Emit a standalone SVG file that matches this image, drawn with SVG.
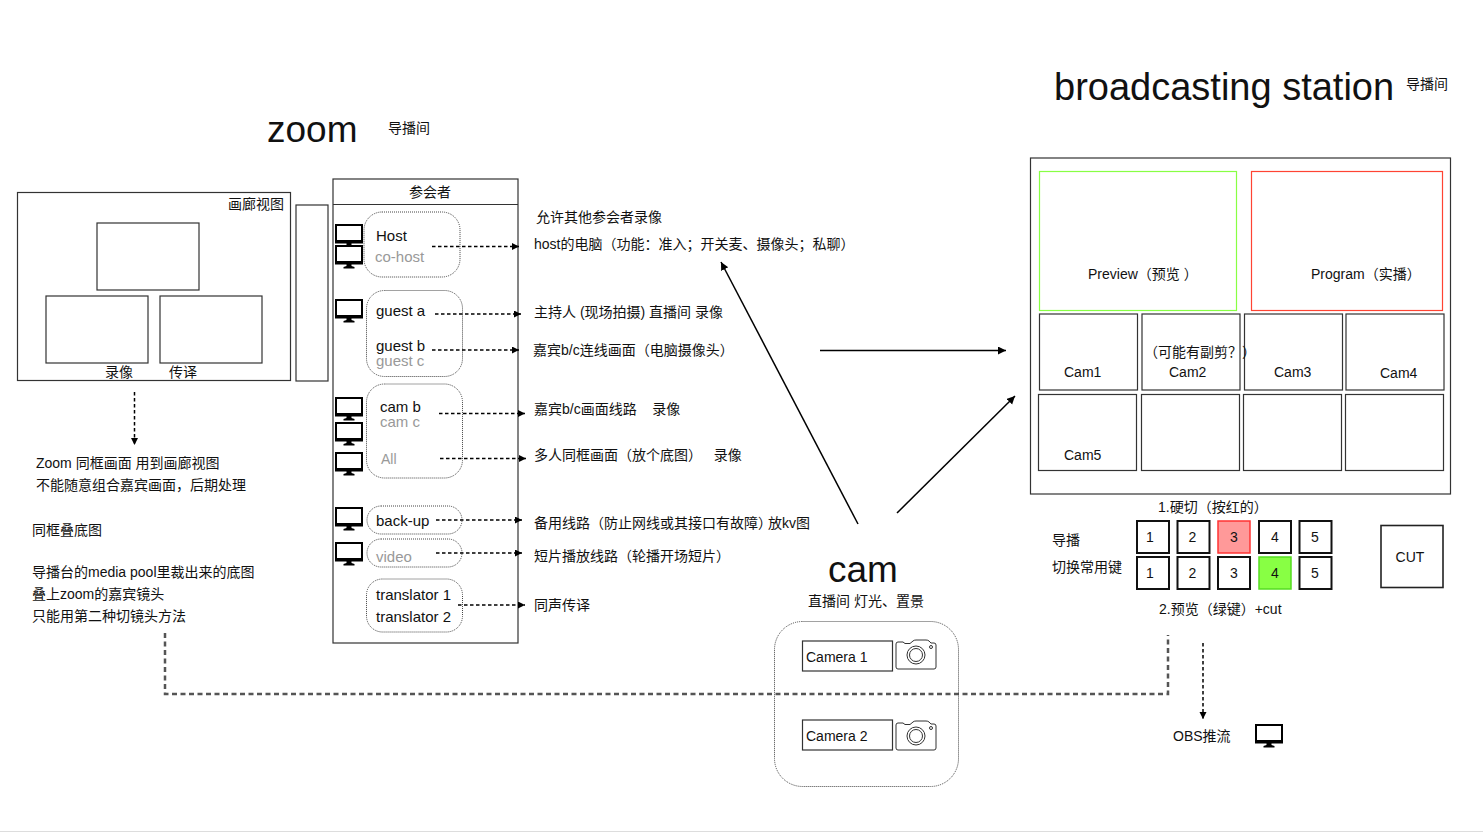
<svg xmlns="http://www.w3.org/2000/svg" width="1483" height="832" viewBox="0 0 1483 832">
<style>
text{font-family:"Liberation Sans","Noto Sans CJK SC",sans-serif;font-size:14px;fill:#111}
.b{fill:#fff;stroke:#333;stroke-width:1.200}
.k{fill:#fff;stroke:#111;stroke-width:2}
.g{fill:#999}
.m{text-anchor:middle}
.n{font-size:15px}
.p{fill:none;stroke:#444;stroke-width:1;stroke-dasharray:1 1}
.d{fill:none;stroke:#000;stroke-width:1.500;stroke-dasharray:3.500 2.500;marker-end:url(#a)}
.s{fill:none;stroke:#000;stroke-width:1.500;marker-end:url(#a2)}
</style>
<defs>
<marker id="a" markerWidth="8" markerHeight="8" refX="7" refY="3.500" orient="auto" markerUnits="userSpaceOnUse"><path d="M0 0L7 3.500L0 7z" fill="#000"/></marker>
<marker id="a2" markerWidth="10" markerHeight="10" refX="8" refY="4" orient="auto" markerUnits="userSpaceOnUse"><path d="M0 0L8 4L0 8z" fill="#000"/></marker>
<g id="mon"><rect x="1" y="1" width="26" height="17" fill="#fff" stroke="#000" stroke-width="2"/><rect x="0" y="16" width="28" height="3.500" fill="#000"/><path d="M11.500 19h5v2l3 1v1.500h-11v-1.500l3-1z" fill="#000"/></g>
<g id="cam"><path d="M1 6q0-2 2-2h5l2 1.500h5l3-2.500q1-1 3-1h10q2 0 3 1l2 2h3q2 0 2 2v22q0 2-2 2h-36q-2 0-2-2z" fill="#fff" stroke="#333" stroke-width="1"/><circle cx="21" cy="17" r="9" fill="none" stroke="#333" stroke-width="1"/><circle cx="21" cy="17" r="6.500" fill="none" stroke="#333" stroke-width="1"/><circle cx="36" cy="9" r="1.500" fill="none" stroke="#333"/></g>
</defs>

<g id="title-zoom"><text x="267" y="142" style="font-size:37px">zoom</text><text x="388" y="133">导播间</text></g>
<g id="title-station"><text x="1054" y="100" style="font-size:38px">broadcasting station</text><text x="1406" y="89">导播间</text></g>

<g id="gallery">
<rect class="b" x="17.500" y="192.500" width="273" height="188"/>
<text x="228" y="209">画廊视图</text>
<rect class="b" x="97" y="223" width="102" height="67"/>
<rect class="b" x="46" y="296" width="102" height="67"/>
<rect class="b" x="160" y="296" width="102" height="67"/>
<text x="105" y="377">录像</text><text x="169" y="377">传译</text>
</g>
<g id="strip"><rect class="b" x="296" y="205" width="32" height="176"/></g>

<g id="participants">
<rect class="b" x="333" y="179" width="185" height="464"/>
<line x1="333" y1="204.500" x2="518" y2="204.500" stroke="#333" stroke-width="1.200"/>
<text x="430" y="197" class="m">参会者</text>
</g>
<g id="monitors">
<use href="#mon" x="335" y="224"/><use href="#mon" x="335" y="245"/><use href="#mon" x="335" y="299"/>
<use href="#mon" x="335" y="397"/><use href="#mon" x="335" y="422"/><use href="#mon" x="335" y="452"/>
<use href="#mon" x="335" y="507"/><use href="#mon" x="335" y="542"/>
</g>
<g id="host"><rect class="p" x="364" y="212" width="96" height="65" rx="18"/><text x="376" y="241" class="n">Host</text><text x="375" y="262" class="g n">co-host</text></g>
<g id="guests"><rect class="p" x="366.500" y="290.500" width="96" height="86" rx="18"/><text x="376" y="316" class="n">guest a</text><text x="376" y="351" class="n">guest b</text><text x="376" y="366" class="g n">guest c</text></g>
<g id="cams"><rect class="p" x="366.500" y="384" width="96" height="94" rx="18"/><text x="380" y="411.500" class="n">cam b</text><text x="380" y="426.500" class="g n">cam c</text><text x="381" y="464" class="g">All</text></g>
<g id="backup"><rect class="p" x="367" y="506" width="95" height="28" rx="14"/><text x="376" y="526" class="n">back-up</text></g>
<g id="video"><rect class="p" x="367" y="539" width="95" height="28" rx="14"/><text x="376" y="562" class="g n">video</text></g>
<g id="translators"><rect class="p" x="366.500" y="579" width="96" height="53" rx="16"/><text x="376" y="600" class="n">translator 1</text><text x="376" y="622" class="n">translator 2</text></g>

<g id="connectors">
<path class="d" d="M432 246.500H519"/>
<path class="d" d="M435 314H521"/>
<path class="d" d="M432 350H519"/>
<path class="d" d="M439 413.500H525"/>
<path class="d" d="M440 458.500H526"/>
<path class="d" d="M436 520H522"/>
<path class="d" d="M436 553H522"/>
<path class="d" d="M458 605H525"/>
<path class="d" d="M134.500 392V445"/>
<path class="d" d="M1203 643V719"/>
<path d="M165 633V694H1168V635" fill="none" stroke="#555" stroke-width="2.500" stroke-dasharray="5 3.500"/>
<path class="s" d="M820 350.500H1006"/>
<path class="s" d="M858 524L721 262"/>
<path class="s" d="M897 513L1015 396"/>
</g>

<g id="notes-right">
<text x="536" y="222">允许其他参会者录像</text>
<text x="534" y="249">host的电脑（功能：准入；开关麦、摄像头；私聊）</text>
<text x="534" y="317">主持人 (现场拍摄) 直播间 录像</text>
<text x="533" y="355">嘉宾b/c连线画面（电脑摄像头）</text>
<text x="534" y="414">嘉宾b/c画面线路&#160;&#160;&#160;&#160;录像</text>
<text x="534" y="460">多人同框画面（放个底图）&#160;&#160;&#160;录像</text>
<text x="534" y="528">备用线路（防止网线或其接口有故障）<tspan dx="-4">放kv图</tspan></text>
<text x="534" y="561">短片播放线路（轮播开场短片）</text>
<text x="534" y="610">同声传译</text>
</g>
<g id="notes-left">
<text x="36" y="468">Zoom 同框画面 用到画廊视图</text>
<text x="36" y="490">不能随意组合嘉宾画面，后期处理</text>
<text x="32" y="535">同框叠底图</text>
<text x="32" y="577">导播台的media pool里裁出来的底图</text>
<text x="32" y="599">叠上zoom的嘉宾镜头</text>
<text x="32" y="621">只能用第二种切镜头方法</text>
</g>

<g id="cam-section">
<text x="828" y="582" style="font-size:37px">cam</text>
<text x="808" y="606">直播间 灯光、置景</text>
<rect class="p" x="774.500" y="621.500" width="184" height="165" rx="28"/>
<rect class="b" x="802.500" y="641" width="90" height="30"/><text x="806" y="662">Camera 1</text>
<use href="#cam" x="895" y="638"/>
<rect class="b" x="802.500" y="720" width="90" height="30"/><text x="806" y="741">Camera 2</text>
<use href="#cam" x="895" y="719"/>
</g>

<g id="station">
<rect class="b" x="1030.500" y="158" width="420" height="336"/>
<rect x="1039.500" y="171.500" width="197" height="139" fill="#fff" stroke="#8f4" stroke-width="1.200"/>
<rect x="1251.500" y="171.500" width="191" height="139" fill="#fff" stroke="#f43" stroke-width="1.200"/>
<text x="1088" y="279">Preview（预览 ）</text>
<text x="1311" y="279">Program（实播）</text>
<rect class="b" x="1039.500" y="314" width="98" height="76"/><text x="1064" y="377">Cam1</text>
<rect class="b" x="1142" y="314" width="98" height="76"/><text x="1169" y="377">Cam2</text>
<rect class="b" x="1244.500" y="314" width="98" height="76"/><text x="1274" y="377">Cam3</text>
<rect class="b" x="1346" y="314" width="98" height="76"/><text x="1380" y="378">Cam4</text>
<text x="1144" y="357">（可能有副剪？）</text>
<rect class="b" x="1038.500" y="394.500" width="98" height="76"/><text x="1064" y="460">Cam5</text>
<rect class="b" x="1141.500" y="394.500" width="98" height="76"/>
<rect class="b" x="1243.500" y="394.500" width="98" height="76"/>
<rect class="b" x="1345.500" y="394.500" width="98" height="76"/>
</g>

<g id="keys">
<text x="1158" y="512">1.硬切（按红的）</text>
<text x="1052" y="545">导播</text>
<text x="1052" y="572">切换常用键</text>
<text x="1159" y="614">2.预览（绿键）+cut</text>
<rect class="k" x="1137" y="521" width="32" height="32"/><text x="1150" y="542" class="m">1</text>
<rect class="k" x="1177.500" y="521" width="32" height="32"/><text x="1192.500" y="542" class="m">2</text>
<rect x="1218" y="521" width="32" height="32" fill="#f99" stroke="#f33" stroke-width="1.500"/><text x="1234" y="542" class="m">3</text>
<rect class="k" x="1259" y="521" width="32" height="32"/><text x="1275" y="542" class="m">4</text>
<rect class="k" x="1299.500" y="521" width="32" height="32"/><text x="1315" y="542" class="m">5</text>
<rect class="k" x="1137" y="557" width="32" height="32"/><text x="1150" y="578" class="m">1</text>
<rect class="k" x="1177.500" y="557" width="32" height="32"/><text x="1192.500" y="578" class="m">2</text>
<rect class="k" x="1218" y="557" width="32" height="32"/><text x="1234" y="578" class="m">3</text>
<rect x="1259" y="557" width="32" height="32" fill="#8f4" stroke="#5d2" stroke-width="1.500"/><text x="1275" y="578" class="m">4</text>
<rect class="k" x="1299.500" y="557" width="32" height="32"/><text x="1315" y="578" class="m">5</text>
</g>
<g id="cut"><rect class="b" x="1381" y="525.500" width="62" height="62" style="stroke-width:1.600;stroke:#222"/><text x="1410" y="562" class="m">CUT</text></g>
<g id="obs"><text x="1173" y="741">OBS推流</text><use href="#mon" x="1255" y="724"/></g>
<line x1="0" y1="831.500" x2="1483" y2="831.500" stroke="#ddd"/>
</svg>
